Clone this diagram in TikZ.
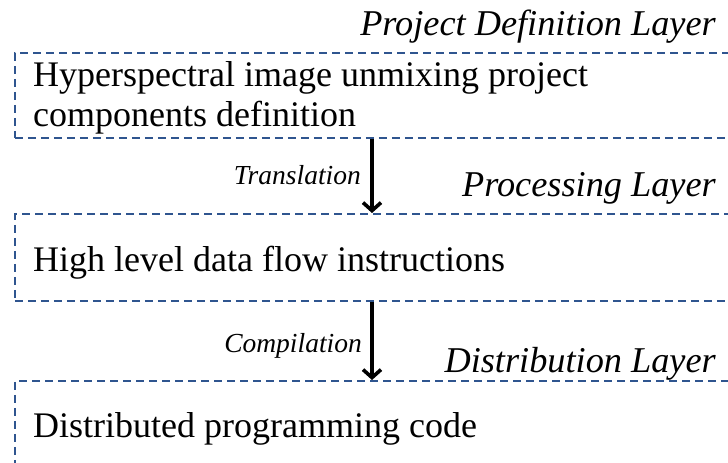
\documentclass[tikz,border=0pt]{standalone}
\usepackage{fontspec}
\setmainfont{Liberation Serif}
\usetikzlibrary{arrows.meta}
\definecolor{boxblue}{RGB}{47,85,143}
\tikzset{
  layerbox/.style={draw=boxblue, line width=1.8pt, dash pattern=on 8pt off 5pt, inner sep=0pt},
  maintext/.style={inner sep=0pt, font=\fontsize{36}{40}\selectfont, anchor=base west},
  layertext/.style={inner sep=0pt, font=\fontsize{36.3}{40}\selectfont\itshape, anchor=base east},
  steptext/.style={inner sep=0pt, font=\fontsize{27.5}{30}\selectfont\itshape, anchor=base east},
  flowarrow/.style={line width=3.6pt, -{Straight Barb[length=8pt,width=18pt,line width=3.6pt]}}
}
\begin{document}
\begin{tikzpicture}[x=1pt,y=1pt]
\useasboundingbox (0,0) rectangle (728,463);
\clip (0,0) rectangle (728,463);
% boxes
\node[layerbox, minimum width=731pt, minimum height=85pt, anchor=north west] (box1) at (14,411) {};
\node[layerbox, minimum width=731pt, minimum height=87pt, anchor=north west] (box2) at (14,250) {};
\node[layerbox, minimum width=731pt, minimum height=110pt, anchor=north west] (box3) at (14,83) {};
% layer labels
\node[layertext] (l1) at (716,427) {Project Definition Layer};
\node[layertext] (l2) at (716,266) {Processing Layer};
\node[layertext] (l3) at (716,90) {Distribution Layer};
% contents
\node[maintext] (t1a) at (33,376) {Hyperspectral image unmixing project};
\node[maintext] (t1b) at (33,336) {components definition};
\node[maintext] (t2) at (33,191) {High level data flow instructions};
\node[maintext] (t3) at (33,25) {Distributed programming code};
% arrows
\coordinate (ax) at (372,0);
\draw[flowarrow] (box1.south -| ax) -- (box2.north -| ax);
\draw[flowarrow] (box2.south -| ax) -- (box3.north -| ax);
\node[steptext] (s1) at (361,278) {Translation};
\node[steptext] (s2) at (362,110) {Compilation};
\end{tikzpicture}
\end{document}
